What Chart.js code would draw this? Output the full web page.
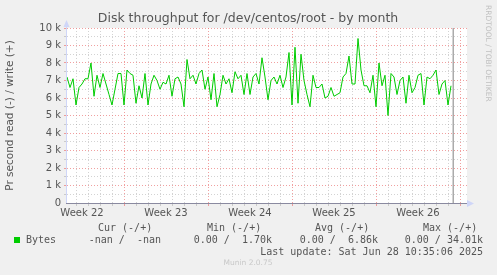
<!DOCTYPE html>
<html>
<head>
<meta charset="utf-8">
<script src="https://cdn.jsdelivr.net/npm/chart.js@4/dist/chart.umd.min.js"></script>
<style>
  html, body { margin: 0; padding: 0; background: #f0f0f0; }
  #wrap { width: 497px; height: 275px; }
</style>
</head>
<body>
<div id="wrap"><canvas id="c" width="497" height="275"></canvas></div>
<script>
// ---- data ----
const titleText = "Disk throughput for /dev/centos/root - by month";
const yAxisTitle = "Pr second read (-) / write (+)";
const weekLabels = ["Week 22", "Week 23", "Week 24", "Week 25", "Week 26"];
const weekLabelDays = [1.25, 8.25, 15.25, 22.25, 29.25];
const weekStartDays = [4.75, 11.75, 18.75, 25.75, 32.75];
const axisDays = 33.3333;
const sampleHours = 6;
const nowDay = 32.18;
const yTicksK = [0, 1, 2, 3, 4, 5, 6, 7, 8, 9, 10];
// write bytes/s in thousands (k), one sample every 6 h
const writeK = [
  7.2, 6.6, 7.1, 5.6, 6.6, 6.8, 7.1, 7.1, 8.0, 6.1,
  7.3, 6.6, 7.4, 6.8, 6.2, 5.6, 6.5, 7.4, 7.4, 5.6,
  7.6, 7.4, 7.3, 5.7, 6.7, 6.0, 7.4, 5.6, 6.8, 7.3,
  7.0, 6.5, 6.9, 6.8, 7.3, 6.1, 7.1, 7.2, 6.8, 5.5,
  8.2, 7.1, 7.3, 6.8, 7.4, 7.6, 6.5, 7.2, 5.9, 7.4,
  5.5, 6.2, 7.3, 6.8, 7.1, 6.3, 7.5, 7.1, 7.3, 6.2,
  7.4, 6.2, 7.2, 7.4, 6.8, 8.3, 7.2, 5.9, 7.0, 7.2,
  6.8, 7.3, 6.6, 7.2, 8.6, 5.6, 8.9, 5.7, 8.5, 7.0,
  6.2, 5.5, 7.3, 6.6, 6.6, 6.8, 6.0, 6.1, 6.6, 6.1,
  6.2, 6.3, 7.2, 7.4, 8.4, 6.8, 6.8, 9.4, 7.6, 6.7,
  6.7, 6.3, 7.3, 5.5, 8.0, 6.7, 7.3, 5.0, 7.4, 7.2,
  6.2, 7.0, 7.2, 5.7, 7.3, 6.3, 6.6, 7.3, 7.4, 5.6,
  7.2, 7.1, 7.3, 7.6, 6.2, 6.8, 7.0, 5.6, 6.7
];
const legendHeaders = ["Cur (-/+)", "Min (-/+)", "Avg (-/+)", "Max (-/+)"];
const legendName = "Bytes";
const legendValues = ["-nan /  -nan", "0.00 /  1.70k", "0.00 /  6.86k", "0.00 / 34.01k"];
const lastUpdate = "Last update: Sat Jun 28 10:35:06 2025";
const versionText = "Munin 2.0.75";
const sideText = "RRDTOOL / TOBI OETIKER";

// ---- styles ----
const GREEN = "#00cc00";
const MAJOR = "rgba(235,120,120,0.7)";
const MINOR = "rgba(150,150,150,0.42)";
const FONT = "DejaVu Sans";
const MONO = "DejaVu Sans Mono";
const TXT = "#555555";
const AXISC = "#cfd6f8";

const points = writeK.map((v, i) => ({ x: i * sampleHours / 24, y: v }));
const isInt = v => Math.abs(v - Math.round(v)) < 1e-6;

const munin = {
  id: "munin",
  beforeDraw(chart) {
    const { ctx, chartArea: a } = chart;
    ctx.save();
    ctx.fillStyle = "#f0f0f0";
    ctx.fillRect(0, 0, chart.width, chart.height);
    ctx.fillStyle = "#ffffff";
    ctx.fillRect(a.left, a.top, a.right - a.left, a.bottom - a.top);
    ctx.restore();
  },
  afterDraw(chart) {
    const { ctx, chartArea: a } = chart;
    ctx.save();
    // title
    ctx.font = "12.5px " + FONT; ctx.fillStyle = TXT;
    ctx.textAlign = "center"; ctx.textBaseline = "middle";
    ctx.fillText(titleText, 248, 19);
    // y axis line + arrow
    ctx.strokeStyle = AXISC; ctx.lineWidth = 1;
    ctx.beginPath(); ctx.moveTo(a.left - 0.5, a.bottom); ctx.lineTo(a.left - 0.5, a.top - 2); ctx.stroke();
    ctx.fillStyle = AXISC;
    ctx.beginPath(); ctx.moveTo(a.left - 0.5, a.top - 8); ctx.lineTo(a.left - 3.5, a.top - 1); ctx.lineTo(a.left + 2.5, a.top - 1); ctx.closePath(); ctx.fill();
    // x axis line + arrow
    ctx.strokeStyle = "#8a8aa0";
    ctx.beginPath(); ctx.moveTo(a.left - 1, a.bottom + 0.5); ctx.lineTo(a.right, a.bottom + 0.5); ctx.stroke();
    ctx.fillStyle = AXISC;
    ctx.beginPath(); ctx.moveTo(a.right + 7, a.bottom + 0.5); ctx.lineTo(a.right, a.bottom - 3); ctx.lineTo(a.right, a.bottom + 4); ctx.closePath(); ctx.fill();
    // side text
    ctx.save();
    ctx.translate(487.5, 5);
    ctx.rotate(Math.PI / 2);
    ctx.font = "7.5px " + FONT; ctx.fillStyle = "#c0c0c0";
    ctx.textAlign = "left"; ctx.textBaseline = "middle";
    ctx.fillText(sideText, 0, 0);
    ctx.restore();
    // legend
    ctx.font = "10px " + MONO; ctx.fillStyle = TXT;
    ctx.textBaseline = "middle"; ctx.textAlign = "left";
    const hx = [98, 207, 315, 423];
    legendHeaders.forEach((t, i) => ctx.fillText(t, hx[i], 228));
    ctx.fillStyle = GREEN; ctx.fillRect(14, 237, 6, 6);
    ctx.fillStyle = TXT;
    ctx.fillText(legendName, 26, 240);
    const vx = [161, 272, 378, 483];
    ctx.textAlign = "right";
    legendValues.forEach((t, i) => ctx.fillText(t, vx[i], 240));
    ctx.fillText(lastUpdate, 483, 252);
    ctx.textAlign = "center"; ctx.font = "7.5px " + FONT; ctx.fillStyle = "#c8c8c8";
    ctx.fillText(versionText, 248, 263.5);
    ctx.restore();
  }
};

new Chart(document.getElementById("c"), {
  type: "line",
  data: {
    datasets: [
      { data: points, borderColor: GREEN, borderWidth: 1, pointRadius: 0, tension: 0, fill: false },
      { data: [{ x: nowDay, y: 0 }, { x: nowDay, y: 10 }], borderColor: "#808080", borderWidth: 1, pointRadius: 0 }
    ]
  },
  options: {
    responsive: false, animation: false, devicePixelRatio: 1,
    layout: { padding: { left: 0, right: 30, top: 28, bottom: 0 } },
    plugins: {
      legend: { display: false }, tooltip: { enabled: false }, title: { display: false }
    },
    scales: {
      x: {
        type: "linear", min: 0, max: axisDays,
        afterBuildTicks: s => {
          const t = [];
          for (let v = 0.25; v < axisDays; v += 0.5) t.push({ value: v });
          s.ticks = t;
        },
        afterFit: s => { s.height = 72; },
        ticks: {
          autoSkip: false, maxRotation: 0, minRotation: 0, padding: 1,
          color: TXT, font: { family: FONT, size: 10 },
          callback: v => { const k = weekLabelDays.findIndex(d => Math.abs(d - v) < 1e-6); return k >= 0 ? weekLabels[k] : ""; }
        },
        grid: {
          tickLength: 3,
          color: c => { const v = c.tick.value; if (!isInt(v - 0.75)) return "rgba(0,0,0,0)"; return weekStartDays.some(d => Math.abs(d - v) < 1e-6) ? MAJOR : MINOR; }
        },
        border: { display: false, dash: [1, 2] }
      },
      y: {
        type: "linear", min: 0, max: 10,
        afterBuildTicks: s => {
          const t = [];
          for (let v = 0; v <= 10.001; v += 0.5) t.push({ value: v });
          s.ticks = t;
        },
        afterFit: s => { s.width = 67; },
        ticks: {
          autoSkip: false, padding: 3, color: TXT, font: { family: FONT, size: 10 },
          callback: v => { if (!isInt(v)) return ""; const k = yTicksK.indexOf(Math.round(v)); return k === 0 ? "0" : yTicksK[k] + " k"; }
        },
        grid: {
          tickLength: 3,
          color: c => { const v = c.tick.value; if (v === 0) return "rgba(0,0,0,0)"; return isInt(v) ? MAJOR : MINOR; }
        },
        border: { display: false, dash: [1, 2] },
        title: { display: true, text: yAxisTitle, color: TXT, font: { family: FONT, size: 10.5 }, padding: { top: 4, bottom: 0 } }
      }
    }
  },
  plugins: [munin]
});
</script>
</body>
</html>
